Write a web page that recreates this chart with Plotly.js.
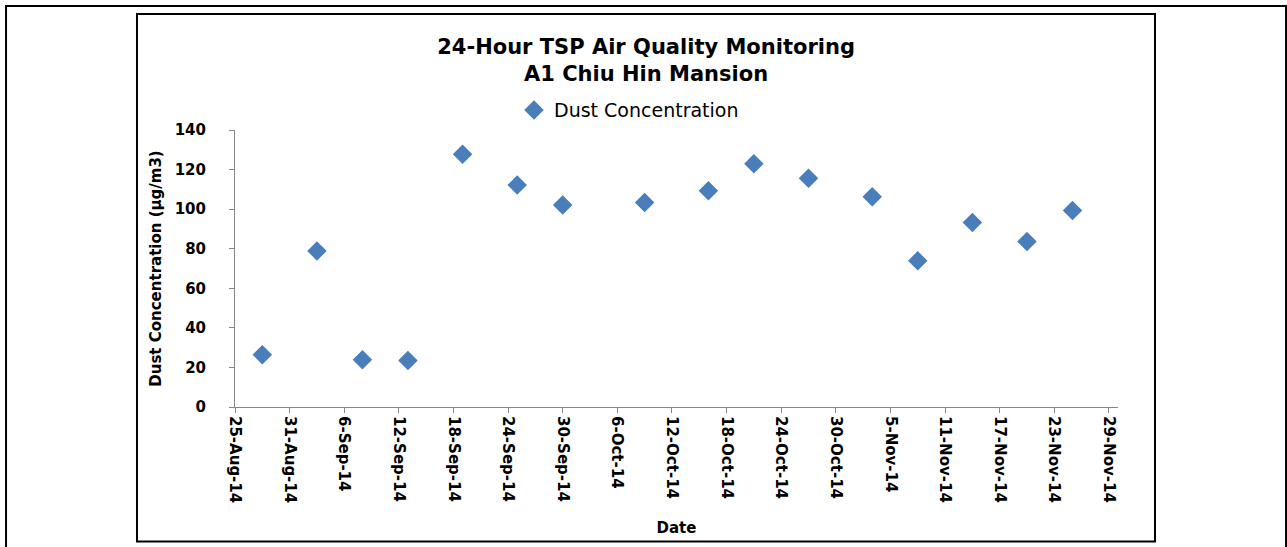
<!DOCTYPE html>
<html>
<head>
<meta charset="utf-8">
<script src="https://cdn.plot.ly/plotly-3.0.1.min.js"></script>
<style>html,body{margin:0;padding:0;background:#fff;}#chart{width:1287px;height:547px;}</style>
</head>
<body>
<div id="chart"></div>
<script>
const dates = ['2014-08-28','2014-09-03','2014-09-08','2014-09-13','2014-09-19','2014-09-25','2014-09-30','2014-10-09','2014-10-16','2014-10-21','2014-10-27','2014-11-03','2014-11-08','2014-11-14','2014-11-20','2014-11-25'];
const dust = [26.4, 78.9, 23.9, 23.5, 127.7, 112.2, 102.1, 103.3, 109.3, 123.0, 115.6, 106.3, 73.9, 93.2, 83.6, 99.3];
const seriesName = 'Dust Concentration';
const titleLines = ['24-Hour TSP Air Quality Monitoring', 'A1 Chiu Hin Mansion'];
const xTitle = 'Date';
const yTitle = 'Dust Concentration (μg/m3)';

const FONT = 'DejaVu Sans, sans-serif';
const trace = {
  x: dates, y: dust, type: 'scatter', mode: 'markers', name: seriesName,
  marker: {symbol: 'diamond', size: 15, color: '#4A7EBB', line: {width: 0}},
  showlegend: true
};
const layout = {
  width: 1287, height: 547,
  margin: {l: 235, r: 169, t: 130, b: 140},
  paper_bgcolor: '#ffffff', plot_bgcolor: '#ffffff',
  font: {family: FONT, color: '#000000'},
  title: {text: titleLines.join('<br>'), font: {family: FONT, size: 21, color: '#000', weight: 'bold'},
          xref: 'container', x: 0.502, xanchor: 'center', yref: 'container', y: 0.902, yanchor: 'middle'},
  showlegend: true,
  legend: {orientation: 'h', x: 0.316, xanchor: 'left', y: 1.072, yanchor: 'middle',
           font: {family: FONT, size: 19, color: '#000'}, bgcolor: 'rgba(0,0,0,0)'},
  xaxis: {
    type: 'date', range: ['2014-08-25', '2014-11-30'],
    tick0: '2014-08-25', dtick: 6 * 86400000, tickformat: '%-d-%b-%y',
    tickangle: 90, tickfont: {family: FONT, size: 15, weight: 'bold', color: '#000'},
    ticks: 'outside', ticklen: 5, tickcolor: '#868686', tickwidth: 1,
    showline: true, linecolor: '#868686', linewidth: 1, showgrid: false, zeroline: false,
    title: {text: xTitle, font: {family: FONT, size: 15, weight: 'bold', color: '#000'}, standoff: 20}
  },
  yaxis: {
    range: [0, 140], dtick: 20, tick0: 0,
    tickfont: {family: FONT, size: 15, weight: 'bold', color: '#000'},
    ticks: 'outside', ticklen: 5, tickcolor: '#868686', tickwidth: 1, ticklabelstandoff: 20,
    showline: true, linecolor: '#868686', linewidth: 1, showgrid: false, zeroline: false,
    title: {text: yTitle, font: {family: FONT, size: 15, weight: 'bold', color: '#000'}, standoff: 9}
  },
  shapes: [
    {type: 'rect', xref: 'paper', yref: 'paper', x0: -0.2593, x1: 1.1903, y0: -0.56, y1: 1.4477,
     line: {color: '#000', width: 2}, fillcolor: 'rgba(0,0,0,0)', layer: 'below'},
    {type: 'rect', xref: 'paper', yref: 'paper', x0: -0.111, x1: 1.0419, y0: -0.4856, y1: 1.4188,
     line: {color: '#000', width: 2}, fillcolor: 'rgba(0,0,0,0)', layer: 'below'}
  ]
};
Plotly.newPlot('chart', [trace], layout, {displayModeBar: false, responsive: false});
</script>
</body>
</html>
